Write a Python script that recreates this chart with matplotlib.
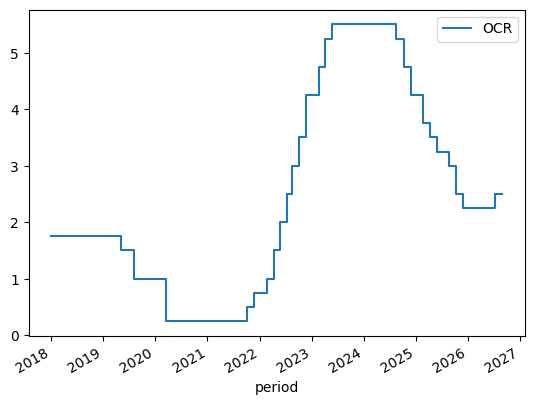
"""Step chart of the NZ official cash rate."""

import matplotlib
matplotlib.use("Agg")
import matplotlib.pyplot as plt
import matplotlib.dates as mdates
import pandas as pd

# OCR decision dates and the rate set on each one
periods = ["2018-01-01", "2019-05-08", "2019-08-07", "2020-03-16",
           "2021-10-06", "2021-11-24", "2022-02-23", "2022-04-13",
           "2022-05-25", "2022-07-13", "2022-08-17", "2022-10-05",
           "2022-11-23", "2023-02-22", "2023-04-05", "2023-05-24",
           "2024-08-14", "2024-10-09", "2024-11-27", "2025-02-19",
           "2025-04-09", "2025-05-28", "2025-08-20", "2025-10-08",
           "2025-11-26", "2026-07-08", "2026-08-28"]
ocr = [1.75, 1.50, 1.00, 0.25,
       0.50, 0.75, 1.00, 1.50,
       2.00, 2.50, 3.00, 3.50,
       4.25, 4.75, 5.25, 5.50,
       5.25, 4.75, 4.25, 3.75,
       3.50, 3.25, 3.00, 2.50,
       2.25, 2.50, 2.50]

dates = pd.to_datetime(periods)

fig, ax = plt.subplots(figsize=(6.4, 4.8), dpi=100)
ax.plot(dates, ocr, drawstyle="steps-post", label="OCR")
ax.xaxis.set_major_locator(mdates.YearLocator())
ax.xaxis.set_major_formatter(mdates.DateFormatter("%Y"))
ax.set_xlabel("period")
ax.legend(loc="upper right")
fig.autofmt_xdate()

fig.savefig("out.png", dpi=100, bbox_inches="tight")
